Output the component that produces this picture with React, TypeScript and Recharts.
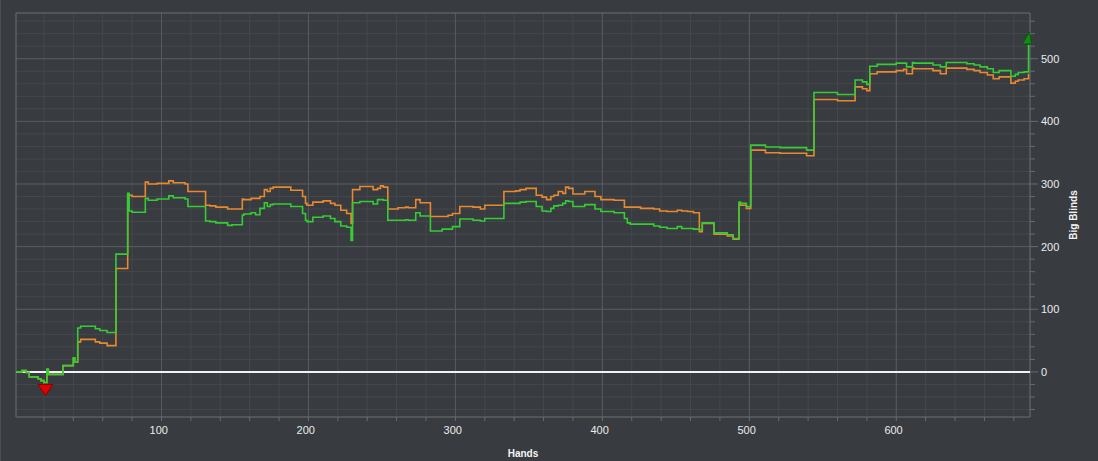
import React from 'react';
import {
  LineChart,
  Line,
  XAxis,
  YAxis,
  CartesianGrid,
  ReferenceLine,
  ReferenceArea,
  ReferenceDot,
} from 'recharts';

if (typeof document !== 'undefined') {
  document.body.style.margin = '0';
  document.body.style.background = '#383b3f';
}

// Hand numbers where the running totals change (step points)
const hands = [
  1, 5, 8, 10, 16, 18, 20, 22, 23, 33, 40, 41, 43, 45, 55, 58, 63, 69, 77, 78, 80, 89, 91, 97, 105, 108,
  116, 118, 130, 133, 137, 145, 148, 155, 156, 161, 164, 167, 170, 172, 174, 176, 188, 196, 198, 199,
  203, 210, 215, 218, 222, 226, 229, 230, 235, 244, 247, 249, 251, 254, 261, 266, 268, 273, 276, 283,
  291, 295, 298, 303, 312, 317, 320, 333, 341, 344, 348, 355, 359, 362, 365, 367, 370, 373, 375, 377,
  380, 388, 395, 399, 408, 415, 417, 419, 426, 435, 439, 444, 451, 454, 458, 462, 466, 468, 476, 485,
  489, 493, 494, 498, 501, 511, 521, 539, 544, 560, 572, 577, 580, 582, 587, 600, 605, 607, 611, 612,
  625, 630, 634, 648, 653, 657, 662, 666, 670, 678, 681, 683, 687, 690,
];

// Net won (green), big blinds
const winnings = [
  0, 2, -1, -8, -11, -14, -17, 4, -4, 10, 22, 16, 70, 73, 69, 66, 63, 188, 285, 257, 255, 277, 274, 276, 281, 278,
  276, 264, 241, 240, 238, 234, 235, 250, 252, 254, 251, 261, 270, 264, 267, 268, 264, 253, 242, 240,
  247, 249, 245, 240, 233, 231, 210, 270, 272, 268, 275, 275, 274, 242, 242, 243, 242, 254, 249, 225,
  228, 228, 232, 244, 242, 241, 245, 269, 269, 271, 272, 264, 257, 256, 261, 265, 266, 269, 273, 272,
  264, 267, 260, 256, 254, 245, 238, 236, 236, 233, 231, 229, 232, 229, 229, 228, 227, 238, 222, 219,
  213, 271, 269, 264, 362, 359, 358, 354, 446, 443, 466, 463, 459, 488, 491, 493, 493, 487, 494, 493,
  490, 487, 494, 492, 490, 487, 484, 478, 481, 472, 475, 478, 479, 522,
];

// All-in adjusted (orange), big blinds
const allInEv = [
  0, 2, -1, -8, -11, -14, -17, 4, -4, 10, 22, 16, 48, 52, 48, 46, 42, 165, 282, 282, 280, 303, 300, 301, 305, 302,
  300, 288, 266, 265, 263, 260, 260, 276, 275, 277, 277, 280, 291, 288, 293, 295, 290, 280, 269, 266,
  271, 273, 269, 266, 258, 253, 237, 291, 296, 291, 293, 297, 295, 260, 262, 263, 262, 275, 270, 248,
  248, 250, 253, 264, 263, 260, 266, 288, 289, 291, 293, 282, 279, 275, 280, 282, 288, 285, 295, 293,
  284, 288, 280, 275, 274, 263, 263, 263, 261, 260, 257, 256, 258, 257, 256, 254, 224, 237, 220, 217,
  212, 269, 266, 261, 354, 350, 349, 345, 435, 433, 455, 452, 449, 476, 479, 481, 483, 476, 485, 484,
  481, 476, 485, 483, 481, 478, 474, 468, 471, 461, 464, 466, 468, 476,
];

const xTicks = [20, 40, 60, 80, 100, 120, 140, 160, 180, 200, 220, 240, 260, 280, 300, 320, 340, 360, 380, 400,
  420, 440, 460, 480, 500, 520, 540, 560, 580, 600, 620, 640, 660, 680];
const xLabels = [100, 200, 300, 400, 500, 600];
const yTicks = [-60, -40, -20, 0, 20, 40, 60, 80, 100, 120, 140, 160, 180, 200, 220, 240, 260, 280, 300, 320,
  340, 360, 380, 400, 420, 440, 460, 480, 500, 520, 540, 560];
const yLabels = [0, 100, 200, 300, 400, 500];
const yMajorGrid = [100, 200, 300, 400, 500];

const data = hands.map((h, i) => ({ hand: h, won: winnings[i], ev: allInEv[i] }));

const BG = '#383b3f';
const MINOR = '#45484c';
const MAJOR = '#585b5f';
const BORDER = '#696c6f';
const TEXT = '#ececec';
const FONT = '"Liberation Sans", Arial, sans-serif';

const XTick = (props: any) => {
  const { x, y, payload } = props;
  if (!xLabels.includes(payload.value)) return <g />;
  return (
    <text
      x={x - 2.7}
      y={y + 11}
      textAnchor="middle"
      fill={TEXT}
      stroke="none"
      style={{ fill: TEXT, stroke: 'none' }}
      fontSize={11}
      fontFamily={FONT}
    >
      {payload.value}
    </text>
  );
};

const YTick = (props: any) => {
  const { x, y, payload } = props;
  const major = yLabels.includes(payload.value);
  return (
    <g>
      <line x1={x - 11} x2={major ? x - 3 : x - 6} y1={y} y2={y} stroke={BORDER} strokeWidth={1} />
      {major && (
        <text
          x={x}
          y={y + 4}
          textAnchor="start"
          fill={TEXT}
          stroke="none"
          style={{ fill: TEXT, stroke: 'none' }}
          fontSize={11}
          fontFamily={FONT}
        >
          {payload.value}
        </text>
      )}
    </g>
  );
};

const RedTriangle = (props: any) => {
  const { cx, cy } = props;
  return (
    <polygon
      points={`${cx - 7.5},${cy + 2} ${cx + 7.5},${cy + 2} ${cx},${cy + 13}`}
      fill="#e00000"
      stroke="#8a0000"
      strokeWidth={1}
    />
  );
};

const GreenTriangle = (props: any) => {
  const { cx, cy } = props;
  return (
    <polygon
      points={`${cx - 6},${cy - 1} ${cx + 3},${cy - 1} ${cx + 1},${cy - 13}`}
      fill="#138c13"
      stroke="#0a5a0a"
      strokeWidth={1}
    />
  );
};

export default function App() {
  return (
    <div style={{ width: 1098, height: 461, background: BG, position: 'relative', overflow: 'hidden' }}>
      <div style={{ position: 'absolute', left: 0, top: 0, width: 1, height: 461, background: '#4a4d51' }} />
      <LineChart width={1098} height={461} data={data} margin={{ top: 13, right: 0, bottom: 0, left: 16 }}>
        <CartesianGrid stroke={MINOR} strokeWidth={1} />
        <CartesianGrid stroke={MAJOR} strokeWidth={1} horizontalValues={yMajorGrid} verticalValues={xLabels} />
        <XAxis
          dataKey="hand"
          type="number"
          domain={[1, 691]}
          ticks={xTicks}
          interval={0}
          height={44}
          tickSize={4}
          tickMargin={2}
          axisLine={false}
          tickLine={{ stroke: BORDER }}
          tick={(p: any) => <XTick {...p} />}
          label={{
            value: 'Hands',
            position: 'insideBottom',
            offset: 4,
            fill: '#f4f4f4',
            fontSize: 10,
            fontWeight: 'bold',
            fontFamily: FONT,
          }}
        />
        <YAxis
          orientation="right"
          type="number"
          domain={[-72, 573]}
          ticks={yTicks}
          interval={0}
          width={68}
          tickSize={8}
          tickMargin={3}
          axisLine={false}
          tickLine={false}
          tick={(p: any) => <YTick {...p} />}
          label={{
            value: 'Big Blinds',
            angle: -90,
            position: 'center',
            dx: 9,
            fill: '#f4f4f4',
            fontSize: 10,
            fontWeight: 'bold',
            fontFamily: FONT,
          }}
        />
        <ReferenceArea x1={1} x2={691} y1={-72} y2={573} fill="none" stroke={BORDER} strokeWidth={1} />
        <ReferenceLine y={0} stroke="#f2f2f2" strokeWidth={2} />
        <Line
          type="stepAfter"
          dataKey="ev"
          stroke="#e8892f"
          strokeWidth={1.6}
          dot={false}
          isAnimationActive={false}
        />
        <Line
          type="stepAfter"
          dataKey="won"
          stroke="#35cc35"
          strokeWidth={1.6}
          dot={false}
          isAnimationActive={false}
        />
        <ReferenceDot x={21} y={-17} shape={(p: any) => <RedTriangle {...p} />} />
        <ReferenceDot x={690} y={522} shape={(p: any) => <GreenTriangle {...p} />} />
      </LineChart>
    </div>
  );
}
